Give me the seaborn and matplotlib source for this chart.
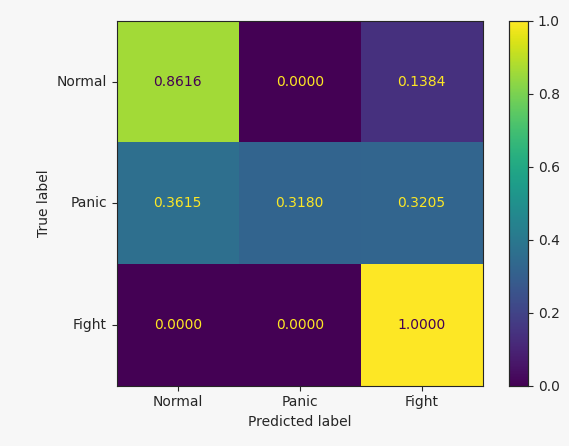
import numpy as np
import matplotlib
matplotlib.use("Agg")
import matplotlib.pyplot as plt
import seaborn as sns

# Class names and normalized confusion matrix values
labels = ["Normal", "Panic", "Fight"]
row_normal = [0.8616, 0.0000, 0.1384]
row_panic = [0.3615, 0.3180, 0.3205]
row_fight = [0.0000, 0.0000, 1.0000]
cm = np.array([row_normal, row_panic, row_fight])

sns.set_style("ticks")
plt.rcParams['font.family'] = ['DejaVu Sans']

bg = "#f7f7f7"
fig = plt.figure(figsize=(5.69, 4.46), dpi=100, facecolor=bg)
ax = fig.add_axes([0.2051, 0.1352, 0.6432, 0.8184])
cax = fig.add_axes([0.8946, 0.1352, 0.0334, 0.8184])

cmap = plt.get_cmap("viridis")
sns.heatmap(cm, ax=ax, cbar_ax=cax, cmap=cmap, vmin=0, vmax=1,
            annot=True, fmt=".4f", annot_kws={"fontsize": 10},
            xticklabels=labels, yticklabels=labels, linewidths=0)

# text color like sklearn: light text on dark cells, dark text on light cells
thresh = (cm.max() + cm.min()) / 2
for txt, val in zip(ax.texts, cm.flatten()):
    txt.set_color(cmap(1.0) if val < thresh else cmap(0.0))

ax.set_xlabel("Predicted label")
ax.set_ylabel("True label")
ax.tick_params(axis="y", rotation=0, length=3.5)
ax.tick_params(axis="x", length=3.5)
for s in ax.spines.values():
    s.set_visible(True)
    s.set_linewidth(0.8)
ax.set_facecolor(bg)

cax.tick_params(length=3.5)
cax.set_yticks([0.0, 0.2, 0.4, 0.6, 0.8, 1.0])
for s in cax.spines.values():
    s.set_visible(True)
    s.set_linewidth(0.8)

fig.savefig("out.png", dpi=100, facecolor=bg)
